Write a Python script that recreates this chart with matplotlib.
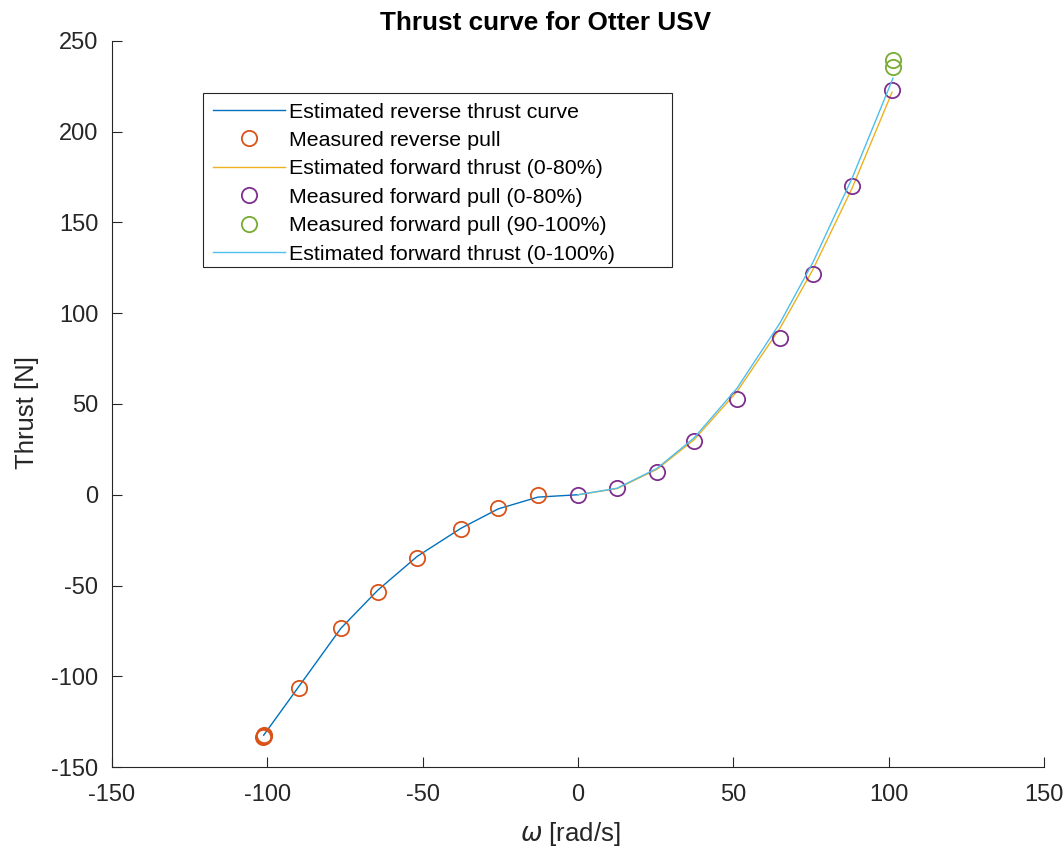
import numpy as np
import matplotlib
matplotlib.use("Agg")
import matplotlib.pyplot as plt
from matplotlib.patches import Rectangle

plt.rcParams["font.family"] = ["Liberation Sans", "DejaVu Sans"]
plt.rcParams["mathtext.fontset"] = "dejavusans"
plt.rcParams["axes.unicode_minus"] = False

# reverse direction: measured pull and estimated curve
rev_omega = [-101.5, -101.0, -101.2, -89.8, -76.3, -64.4, -51.8, -37.7, -25.7, -12.9]
rev_pull = [-133.5, -132.2, -133.0, -106.3, -73.3, -53.4, -34.7, -18.7, -7.2, 0.0]
rev_est_omega = [-101.2, -89.8, -76.3, -64.4, -51.8, -37.7, -25.7, -12.9, 0.0]
rev_est = [-132.5, -105.5, -73.5, -52.5, -34.0, -18.5, -7.8, -1.3, 0.0]

# forward direction 0-80% throttle
fwd_omega = [0.0, 12.6, 25.4, 37.3, 51.2, 65.0, 75.6, 88.2, 101.1]
fwd_pull = [0.0, 3.9, 12.7, 29.8, 52.9, 86.5, 121.8, 170.2, 223.1]
fwd_est = [0.0, 3.4, 14.0, 30.2, 56.9, 91.7, 124.0, 168.8, 221.8]

# forward 90-100% throttle
hi_omega = [101.4, 101.4]
hi_pull = [239.7, 235.8]

# forward estimate using all points
all_omega = [0.0, 12.6, 25.4, 37.3, 51.2, 65.0, 75.6, 88.2, 101.4]
all_est = [0.0, 3.6, 14.5, 31.2, 58.7, 94.6, 128.0, 174.3, 229.5]

fig = plt.figure(figsize=(10.64, 8.48), dpi=100)
ax = fig.add_axes([0.1053, 0.0955, 0.8759, 0.8562])
dark = "#262626"

mk = dict(marker="o", linestyle="none", markersize=11, markerfacecolor="none", markeredgewidth=1.3)
ax.plot(rev_est_omega, rev_est, color="#0072BD", lw=1, label="Estimated reverse thrust curve")
ax.plot(rev_omega, rev_pull, color="#D95319", label="Measured reverse pull", **mk)
ax.plot(fwd_omega, fwd_est, color="#EDB120", lw=1, label="Estimated forward thrust (0-80%)")
ax.plot(fwd_omega, fwd_pull, color="#7E2F8E", label="Measured forward pull (0-80%)", **mk)
ax.plot(hi_omega, hi_pull, color="#77AC30", label="Measured forward pull (90-100%)", **mk)
ax.plot(all_omega, all_est, color="#4DBEEE", lw=1, label="Estimated forward thrust (0-100%)")

ax.set_xlim(-150, 150)
ax.set_ylim(-150, 250)
ax.set_xticks(np.arange(-150, 151, 50))
ax.set_yticks(np.arange(-150, 251, 50))
ax.spines["top"].set_visible(False)
ax.spines["right"].set_visible(False)
for s in ["left", "bottom"]:
    ax.spines[s].set_color(dark)
ax.tick_params(direction="in", length=7, labelsize=17, colors=dark, pad=10)
ax.tick_params(axis="x", pad=12)

ax.set_xlabel(r"$\omega$ [rad/s]", fontsize=18.5, color=dark)
ax.set_ylabel("Thrust [N]", fontsize=18.5, color=dark)
ax.xaxis.set_label_coords(0.4914, -0.073)
ax.yaxis.set_label_coords(-0.078, 0.4876)
ax.set_title("Thrust curve for Otter USV", fontsize=18.8, fontweight="bold",
             x=0.4646, pad=8)

# matlab-style legend: wide box drawn separately
leg = ax.legend(loc="upper left", bbox_to_anchor=(0.1015, 0.924), fontsize=15.4,
                frameon=False, handlelength=3.35, borderpad=0.3,
                labelspacing=0.44, handletextpad=0.2, borderaxespad=0)
leg.set_zorder(6)
box = Rectangle((203 / 1064, 1 - 267 / 848), 469 / 1064, 174 / 848,
                transform=fig.transFigure, facecolor="white",
                edgecolor=dark, lw=0.8, zorder=5, clip_on=False)
ax.add_artist(box)

fig.savefig("out.png", dpi=100)
